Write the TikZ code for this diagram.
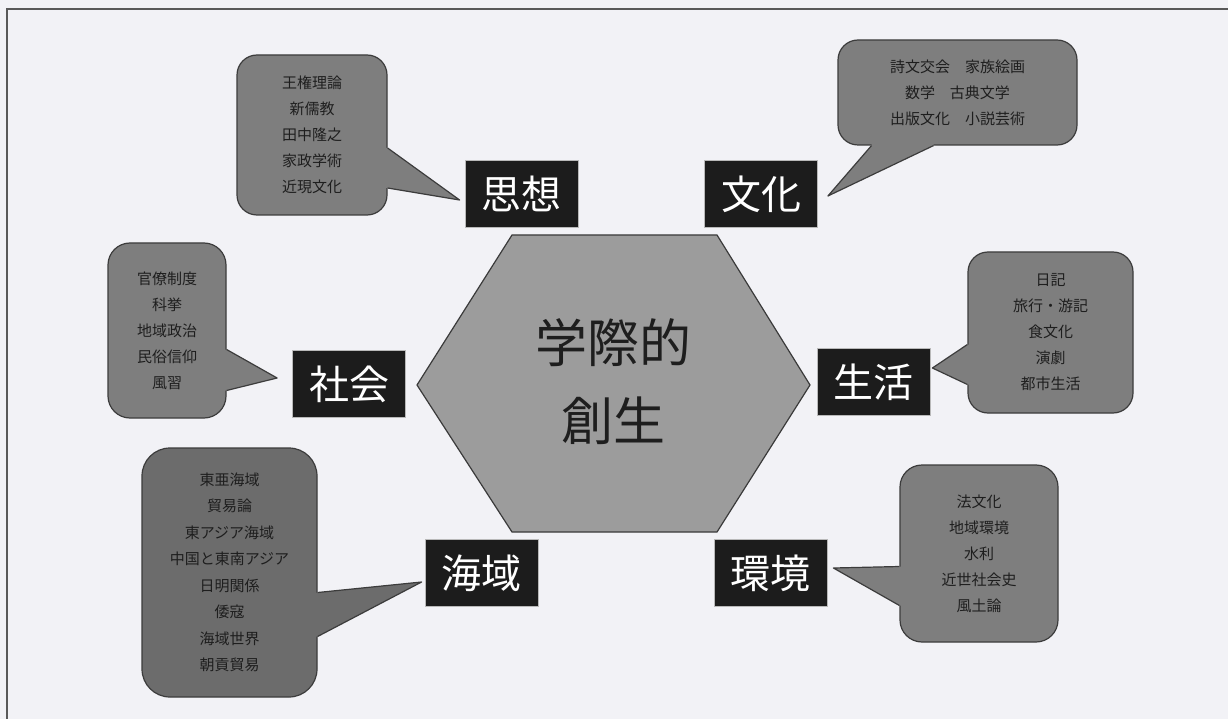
\documentclass[tikz,border=0pt]{standalone}
\usepackage{fontspec}
\setmainfont{Noto Sans CJK JP}
\usetikzlibrary{calc}
\definecolor{bg}{HTML}{F2F2F6}
\definecolor{hexfill}{HTML}{9C9C9C}
\definecolor{hexedge}{HTML}{3A3A3A}
\definecolor{callfill}{HTML}{7E7E7E}
\definecolor{calldark}{HTML}{6C6C6C}
\definecolor{calledge}{HTML}{3C3C3C}
\definecolor{calltext}{HTML}{1E1E1E}
\definecolor{labbg}{HTML}{1C1C1C}
\begin{document}
\begin{tikzpicture}[x=1pt,y=-1pt,
  lab/.style={fill=labbg, text=white, draw=gray!55, line width=0.8pt,
    font=\fontsize{40}{40}\selectfont, minimum width=113pt, minimum height=67pt, inner sep=0pt},
  callbox/.style={rounded corners=20pt, fill=callfill, draw=calledge, line width=1.2pt,
    align=center, text=calltext, font=\fontsize{15}{26}\selectfont, inner sep=0pt},
  tailfill/.style={fill=callfill},
  tailedge/.style={draw=calledge, line width=1.2pt, line join=round},
  hub/.style={align=center, text=calltext, font=\fontsize{52}{78}\selectfont, inner sep=0pt}
]
\useasboundingbox (0,0) rectangle (1228,719);
\fill[bg] (0,0) rectangle (1228,719);
\draw[gray!70!black, line width=2pt] (7,719) -- (7,9) -- (1228,9);

% central hexagon
\coordinate (h1) at (417,385);
\coordinate (h2) at (512,235);
\coordinate (h3) at (717,235);
\coordinate (h4) at (810,385);
\coordinate (h5) at (717,532);
\coordinate (h6) at (512,532);
\filldraw[fill=hexfill, draw=hexedge, line width=1.2pt] (h1) -- (h2) -- (h3) -- (h4) -- (h5) -- (h6) -- cycle;
\node[hub] (center) at (613,382) {学際的\\創生};

% category labels
\node[lab] (shiso)  at (521.5,194) {思想};
\node[lab] (bunka)  at (761,194)   {文化};
\node[lab] (shakai) at (349,384)   {社会};
\node[lab] (seikatsu) at (873.5,382) {生活};
\node[lab] (kaiiki) at (481.5,573) {海域};
\node[lab] (kankyo) at (770.5,573) {環境};

% callouts
\node[callbox, minimum width=150pt, minimum height=160pt] (c1) at (312,135)
  {王権理論\\新儒教\\田中隆之\\家政学術\\近現文化};
\node[callbox, minimum width=239pt, minimum height=105pt, font=\fontsize{15}{26}\selectfont] (c2) at (957.5,92.5)
  {詩文交会\quad 家族絵画\\数学\quad 古典文学\\出版文化\quad 小説芸術};
\node[callbox, minimum width=118pt, minimum height=175pt, rounded corners=22pt] (c3) at (167,330.5)
  {官僚制度\\科挙\\地域政治\\民俗信仰\\風習};
\node[callbox, minimum width=165pt, minimum height=161pt] (c4) at (1050.5,332.5)
  {日記\\旅行・游記\\食文化\\演劇\\都市生活};
\node[callbox, fill=calldark, minimum width=175pt, minimum height=249pt, rounded corners=28pt,
  font=\fontsize{15}{26.5}\selectfont] (c5) at (229.5,572.5)
  {東亜海域\\貿易論\\東アジア海域\\中国と東南アジア\\日明関係\\倭寇\\海域世界\\朝貢貿易};
\node[callbox, minimum width=158pt, minimum height=177pt, rounded corners=22pt] (c6) at (979,553.5)
  {法文化\\地域環境\\水利\\近世社会史\\風土論};

% tails (tips point at the labels)
\coordinate (t1) at ($(shiso.west)+(-5,6)$);
\coordinate (t2) at ($(bunka.east)+(10,2)$);
\coordinate (t3) at ($(shakai.west)+(-15,-6)$);
\coordinate (t4) at ($(seikatsu.east)+(2,-14)$);
\coordinate (t5) at ($(kaiiki.west)+(-3,9)$);
\coordinate (t6) at ($(kankyo.east)+(6,-5)$);

\fill[tailfill] ($(c1.east)+(-6,13)$) -- ($(c1.east)+(0,13)$) -- (t1) -- ($(c1.east)+(0,53)$) -- ($(c1.east)+(-6,53)$) -- cycle;
\draw[tailedge] ($(c1.east)+(0,13)$) -- (t1) -- ($(c1.east)+(0,53)$);

\fill[tailfill] ($(c2.south)+(-86,-6)$) -- ($(c2.south)+(-86,0)$) -- (t2) -- ($(c2.south)+(-24,0)$) -- ($(c2.south)+(-24,-6)$) -- cycle;
\draw[tailedge] ($(c2.south)+(-86,0)$) -- (t2) -- ($(c2.south)+(-24,0)$);

\fill[tailfill] ($(c3.east)+(-6,19)$) -- ($(c3.east)+(0,19)$) -- (t3) -- ($(c3.east)+(0,60)$) -- ($(c3.east)+(-6,60)$) -- cycle;
\draw[tailedge] ($(c3.east)+(0,19)$) -- (t3) -- ($(c3.east)+(0,60)$);

\fill[tailfill] ($(c4.west)+(6,12)$) -- ($(c4.west)+(0,12)$) -- (t4) -- ($(c4.west)+(0,52)$) -- ($(c4.west)+(6,52)$) -- cycle;
\draw[tailedge] ($(c4.west)+(0,12)$) -- (t4) -- ($(c4.west)+(0,52)$);

\fill[calldark] ($(c5.east)+(-6,20)$) -- ($(c5.east)+(0,20)$) -- (t5) -- ($(c5.east)+(0,64)$) -- ($(c5.east)+(-6,64)$) -- cycle;
\draw[tailedge] ($(c5.east)+(0,20)$) -- (t5) -- ($(c5.east)+(0,64)$);

\fill[tailfill] ($(c6.west)+(6,13)$) -- ($(c6.west)+(0,13)$) -- (t6) -- ($(c6.west)+(0,52)$) -- ($(c6.west)+(6,52)$) -- cycle;
\draw[tailedge] ($(c6.west)+(0,13)$) -- (t6) -- ($(c6.west)+(0,52)$);
\end{tikzpicture}
\end{document}
